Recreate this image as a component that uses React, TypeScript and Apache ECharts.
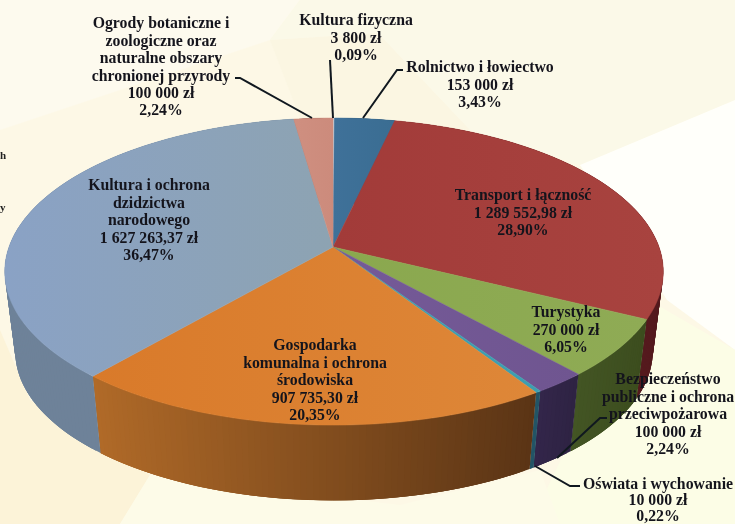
import React, { useEffect, useRef } from "react";
import * as echarts from "echarts";

const categories = [
  "Kultura fizyczna",
  "Rolnictwo i łowiectwo",
  "Transport i łączność",
  "Turystyka",
  "Bezpieczeństwo\npubliczne i ochrona\nprzeciwpożarowa",
  "Oświata i wychowanie",
  "Gospodarka\nkomunalna i ochrona\nśrodowiska",
  "Kultura i ochrona\ndzidzictwa\nnarodowego",
  "Ogrody botaniczne i\nzoologiczne oraz\nnaturalne obszary\nchronionej przyrody",
];
const amounts = [3800, 153000, 1289552.98, 270000, 100000, 10000, 907735.3, 1627263.37, 100000];
const amountLabels = ["3 800 zł", "153 000 zł", "1 289 552,98 zł", "270 000 zł", "100 000 zł", "10 000 zł", "907 735,30 zł", "1 627 263,37 zł", "100 000 zł"];
const percentLabels = ["0,09%", "3,43%", "28,90%", "6,05%", "2,24%", "0,22%", "20,35%", "36,47%", "2,24%"];

const topColors = [
  ["#c9d3dc", "#c9d3dc"], ["#3f7199", "#3a6d92"], ["#a23b39", "#a8433f"], ["#8aa84e", "#8fab55"],
  ["#755a98", "#6f5590"], ["#3d9fb0", "#3d9fb0"], ["#d97a2a", "#de8738"], ["#8aa2c5", "#8da3b2"], ["#cf8f80", "#cc8b7c"],
];
const sideColors = [
  ["#8a939c", "#8a939c"], ["#2a4e6a", "#2a4e6a"], ["#6a1e20", "#541a1e"], ["#435524", "#3c4d1e"],
  ["#33264a", "#2e2343"], ["#235566", "#235566"], ["#b06a28", "#5a3415"], ["#6e8299", "#6f8398"], ["#8a5a50", "#8a5a50"],
];
const labelPos = [
  [356, 20], [480, 67], [523, 195], [566, 312], [668, 379], [658, 484], [315, 345], [149, 185], [161, 23],
];
const labelLineHeight = [17.4, 17.4, 17.4, 17.4, 17.4, 16, 17.4, 17.4, 17.4];
const leaders = [
  [[330, 60], [333, 118]],
  [[403, 70], [397, 70], [363, 118]],
  [[607, 418], [600, 418], [557, 458]],
  [[580, 486], [570, 486], [535, 466]],
  [[235, 78], [240, 78], [312, 118]],
];

const CX = 333, Y0 = 247, A_RIGHT = 326, A_LEFT = 324, B = 149.6, K = 0.16;
const SCALE = 0.968, Y0B = 328;
const total = amounts.reduce((a, b) => a + b, 0);

function rim(f: number, bottom: boolean) {
  const t = f * 2 * Math.PI;
  const u = Math.sin(t), v = -Math.cos(t);
  const w = 1 - K * v;
  const A = u < 0 ? A_LEFT : A_RIGHT;
  return bottom
    ? [CX + (SCALE * A * u) / w, Y0B + (SCALE * B * v) / w]
    : [CX + (A * u) / w, Y0 + (B * v) / w];
}
function arc(f0: number, f1: number, bottom: boolean) {
  const n = Math.max(2, Math.ceil((f1 - f0) * 360));
  const pts = [];
  for (let i = 0; i <= n; i++) pts.push(rim(f0 + ((f1 - f0) * i) / n, bottom));
  return pts;
}
function range(idx: number) {
  let s = 0;
  for (let i = 0; i < idx; i++) s += amounts[i];
  return [s / total, (s + amounts[idx]) / total];
}
const grad = (c: string[]) =>
  new echarts.graphic.LinearGradient(0, 0, 1, 0, [
    { offset: 0, color: c[0] },
    { offset: 1, color: c[1] },
  ]);

const bgPolys: [number[][], string][] = [
  [[[0, 0], [735, 0], [735, 524], [0, 524]], "#fdf8e6"],
  [[[0, 0], [300, 0], [270, 40], [0, 130]], "#fdfaee"],
  [[[270, 40], [378, 33], [470, 130], [300, 118]], "#fbf6e2"],
  [[[300, 0], [735, 0], [735, 100], [580, 165], [470, 130], [378, 33], [270, 40]], "#fbf9e8"],
  [[[580, 165], [735, 100], [735, 350], [667, 300]], "#fffffa"],
  [[[640, 295], [735, 350], [735, 524], [530, 524]], "#fcfde6"],
  [[[0, 330], [30, 400], [150, 475], [120, 524], [0, 524]], "#fcf3d8"],
  [[[120, 524], [150, 475], [400, 505], [540, 470], [560, 524]], "#fdfbe8"],
];

export default function App() {
  const ref = useRef<HTMLDivElement>(null);
  useEffect(() => {
    const chart = echarts.init(ref.current!, undefined, { renderer: "svg" });
    const data = amounts.map((v, i) => ({ value: v, name: categories[i] }));
    const graphic: any[] = bgPolys.map(([points, fill]) => ({
      type: "polygon", silent: true, z: -10, shape: { points }, style: { fill },
    }));
    leaders.forEach((points) =>
      graphic.push({ type: "polyline", silent: true, z: 20, shape: { points }, style: { stroke: "#10181f", lineWidth: 2, fill: "none" } })
    );
    categories.forEach((c, i) => {
      graphic.push({
        type: "text", silent: true, z: 30, x: labelPos[i][0], y: labelPos[i][1] - 8.7,
        style: {
          text: `${c}\n${amountLabels[i]}\n${percentLabels[i]}`,
          font: 'bold 15.8px "Liberation Serif"', lineHeight: labelLineHeight[i], fill: "#14141c",
          align: "center", verticalAlign: "top",
        },
      });
    });
    graphic.push({ type: "text", silent: true, z: 30, x: 0, y: 155, style: { text: "h", font: 'bold 11px "Liberation Serif"', fill: "#222", align: "left", verticalAlign: "middle" } });
    graphic.push({ type: "text", silent: true, z: 30, x: 0, y: 207, style: { text: "y", font: 'bold 11px "Liberation Serif"', fill: "#222", align: "left", verticalAlign: "middle" } });

    chart.setOption({
      animation: false,
      backgroundColor: "#fdf8e6",
      graphic,
      series: [
        {
          type: "custom", coordinateSystem: "none", silent: true, z: 2, data,
          renderItem: (p: any) => {
            const [f0, f1] = range(p.dataIndex);
            const top = arc(f0, f1, false);
            const bot = arc(f0, f1, true);
            const xs = top.map((q) => q[0]);
            const xMin = Math.min(...xs), xMax = Math.max(...xs);
            const cs = sideColors[p.dataIndex];
            const children: any[] = [];
            for (let i = 0; i + 1 < top.length; i++) {
              const j = Math.min(i + 3, top.length - 1);
              const mid = (top[i][0] + top[i + 1][0]) / 2;
              const t = xMax > xMin ? (mid - xMin) / (xMax - xMin) : 0;
              const col = echarts.color.lerp(t, cs);
              children.push({
                type: "polygon",
                shape: { points: [top[i], top[j], bot[j], bot[i]] },
                style: { fill: col },
              });
            }
            return { type: "group", children };
          },
        },
        {
          type: "custom", coordinateSystem: "none", silent: true, z: 3, data,
          renderItem: (p: any) => {
            const [f0, f1] = range(p.dataIndex);
            const pts = [[CX, Y0], ...arc(f0, f1, false)];
            const c = grad(topColors[p.dataIndex]);
            return { type: "polygon", shape: { points: pts }, style: { fill: c, stroke: c, lineWidth: 0.5 } };
          },
        },
      ],
    });
    return () => chart.dispose();
  }, []);
  return <div ref={ref} style={{ position: "absolute", left: 0, top: 0, width: 735, height: 524, filter: "blur(0.4px)" }} />;
}
